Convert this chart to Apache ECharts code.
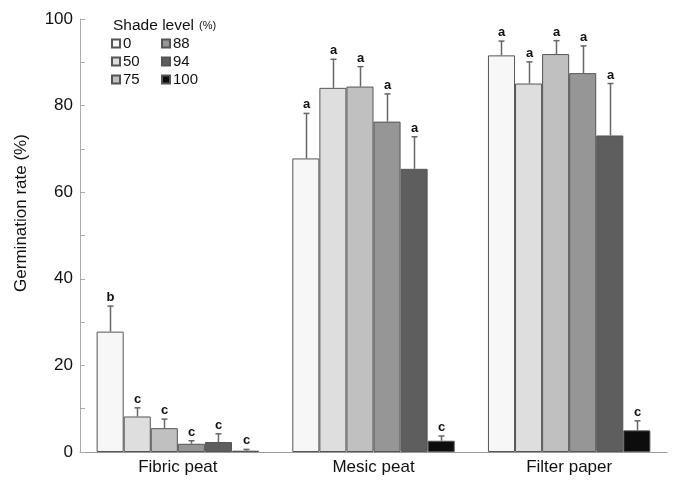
<!DOCTYPE html>
<html>
<head>
<meta charset="utf-8">
<script src="https://cdn.jsdelivr.net/npm/echarts@6/dist/echarts.min.js"></script>
<style>
  html, body { margin: 0; padding: 0; background: #fff; }
  #chart { width: 676px; height: 482px; }
</style>
</head>
<body>
<div id="chart"></div>
<script>
// substrates on x axis
var categories = ["Fibric peat", "Mesic peat", "Filter paper"];
var shadeLevels = ["0", "50", "75", "88", "94", "100"];
var shadeColors = ["#f7f7f7", "#dedede", "#c0c0c0", "#969696", "#5e5e5e", "#0d0d0d"];

// mean germination rate (%), one array per shade level: [fibric, mesic, filter]
var shade0 = [27.8, 67.8, 91.6];
var shade50 = [8.2, 84.1, 85.1];
var shade75 = [5.5, 84.4, 91.9];
var shade88 = [1.9, 76.3, 87.5];
var shade94 = [2.3, 65.4, 73.1];
var shade100 = [0.3, 2.6, 5.0];

// top of the error bar (mean + SE)
var err0 = [33.7, 78.2, 94.9];
var err50 = [10.2, 90.7, 90.1];
var err75 = [7.6, 89.0, 95.0];
var err88 = [2.6, 82.7, 93.8];
var err94 = [4.2, 72.8, 85.1];
var err100 = [0.6, 3.7, 7.2];

// significance letters
var letters0 = ["b", "a", "a"];
var letters50 = ["c", "a", "a"];
var letters75 = ["c", "a", "a"];
var letters88 = ["c", "a", "a"];
var letters94 = ["c", "a", "a"];
var letters100 = ["c", "c", "c"];

var yTicks = [0, 20, 40, 60, 80, 100];

var means = [shade0, shade50, shade75, shade88, shade94, shade100];
var errs = [err0, err50, err75, err88, err94, err100];
var letters = [letters0, letters50, letters75, letters88, letters94, letters100];

var catGap = 0.17;
var font = "Liberation Sans, Arial, sans-serif";

var myChart = echarts.init(document.getElementById("chart"));

var series = [];
for (var k = 0; k < shadeLevels.length; k++) {
  series.push({
    name: shadeLevels[k],
    type: "bar",
    data: means[k],
    barGap: 0,
    barCategoryGap: (catGap * 100) + "%",
    itemStyle: { color: shadeColors[k], borderColor: "#555", borderWidth: 1 },
    emphasis: { disabled: true }
  });
}

// error bars + letters
var errData = [];
var errLetters = [];
for (var k = 0; k < shadeLevels.length; k++) {
  for (var c = 0; c < categories.length; c++) {
    errData.push([c, k, means[k][c], errs[k][c]]);
    errLetters.push(letters[k][c]);
  }
}

series.push({
  type: "custom",
  data: errData,
  encode: { x: 0, y: 3 },
  z: 5,
  renderItem: function (params, api) {
    var cat = api.value(0), k = api.value(1);
    var band = api.size([1, 0])[0];
    var bw = band * (1 - catGap) / shadeLevels.length;
    var top = api.coord([cat, api.value(3)]);
    var base = api.coord([cat, api.value(2)]);
    var x = Math.round(top[0] + (k - 2.5) * bw) + 0.5;
    var lineStyle = { stroke: "#666", lineWidth: 1.5 };
    return {
      type: "group",
      children: [
        { type: "line", shape: { x1: x, y1: base[1], x2: x, y2: top[1] }, style: lineStyle },
        { type: "line", shape: { x1: x - 3, y1: top[1], x2: x + 3, y2: top[1] }, style: lineStyle },
        {
          type: "text",
          style: {
            x: x, y: top[1] - 2,
            text: errLetters[params.dataIndex],
            align: "center", verticalAlign: "bottom",
            font: "bold 13px " + font, fill: "#111"
          }
        }
      ]
    };
  }
});

var legendBase = {
  orient: "vertical",
  itemWidth: 8,
  itemHeight: 8,
  itemGap: 3,
  icon: "rect",
  selectedMode: false,
  textStyle: { fontFamily: font, fontSize: 15, color: "#111", padding: [0, 0, 0, -2] }
};

var option = {
  animation: false,
  title: {
    text: "{a|Shade level} {b|(%)}",
    left: 108,
    top: 12,
    textStyle: {
      rich: {
        a: { fontFamily: font, fontSize: 15.5, fontWeight: "normal", color: "#111" },
        b: { fontFamily: font, fontSize: 11, fontWeight: "normal", color: "#111" }
      }
    }
  },
  legend: [
    Object.assign({ left: 106, top: 31, data: shadeLevels.slice(0, 3) }, legendBase),
    Object.assign({ left: 156, top: 31, data: shadeLevels.slice(3) }, legendBase)
  ],
  grid: { left: 80, right: 9, top: 19, bottom: 30 },
  xAxis: {
    type: "category",
    data: categories,
    axisLine: { lineStyle: { color: "#999" } },
    axisTick: { show: false },
    axisLabel: { fontFamily: font, fontSize: 17, color: "#111", margin: 7 }
  },
  yAxis: {
    type: "value",
    min: 0,
    max: 100,
    interval: 10,
    axisLine: { show: true, lineStyle: { color: "#aaa" } },
    axisTick: { show: true, inside: true, length: 5, lineStyle: { color: "#aaa" } },
    splitLine: { show: false },
    axisLabel: {
      fontFamily: font, fontSize: 17, color: "#111", margin: 7,
      formatter: function (v) { return yTicks.indexOf(v) >= 0 ? String(v) : ""; }
    }
  },
  graphic: [{
    type: "text",
    x: 21, y: 213,
    rotation: Math.PI / 2,
    style: {
      text: "Germination rate (%)",
      align: "center", verticalAlign: "middle",
      font: "17px " + font, fill: "#111"
    }
  }],
  series: series
};

myChart.setOption(option);
</script>
</body>
</html>
